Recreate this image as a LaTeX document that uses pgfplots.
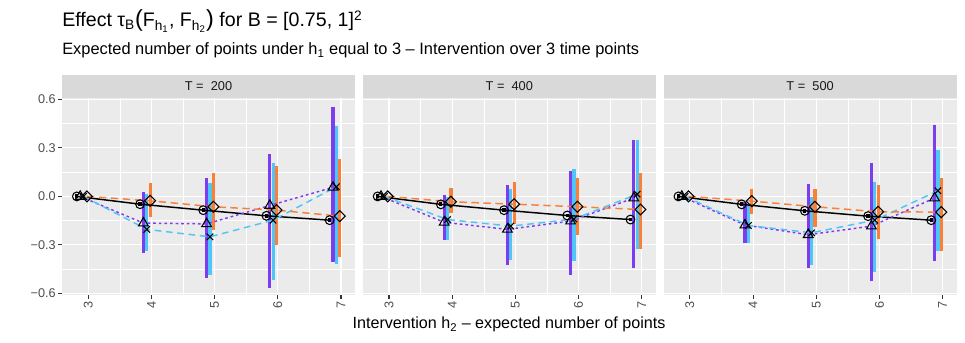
\documentclass[border=0pt]{standalone}
\usepackage{fontspec}
\setmainfont{Liberation Sans}
\usepackage{pgfplots}
\usepackage{pgfplotstable}
\pgfplotsset{compat=1.18}
\definecolor{panelbg}{HTML}{EBEBEB}
\definecolor{stripbg}{HTML}{D9D9D9}
\definecolor{purpleC}{HTML}{7C3CF0}
\definecolor{cyanC}{HTML}{4FC6F5}
\definecolor{orangeC}{HTML}{FA7F38}
\definecolor{tickgrey}{HTML}{4D4D4D}
\definecolor{tickline}{HTML}{333333}

% x: h2 ; b = circle (black) ; p = triangle (purple) ; c = cross (cyan) ; o = diamond (orange)
% *l / *h = lower / upper end of the bar
\pgfplotstableread{
x  b       p      pl     ph     c      cl     ch     o      ol     oh
3  0       0      0      0      0      0      0      0      0      0
4 -0.048  -0.165 -0.349  0.025 -0.204 -0.338  0.012 -0.027 -0.126  0.080
5 -0.085  -0.170 -0.503  0.115 -0.250 -0.487  0.080 -0.064 -0.208  0.148
6 -0.120  -0.056 -0.565  0.260 -0.147 -0.518  0.208 -0.085 -0.300  0.190
7 -0.147   0.056 -0.404  0.554  0.060 -0.419  0.435 -0.122 -0.373  0.230
}\tabA
\pgfplotstableread{
x  b       p      pl     ph     c      cl     ch     o      ol     oh
3  0       0      0      0      0      0      0      0      0      0
4 -0.049  -0.160 -0.270  0.008 -0.143 -0.270 -0.002 -0.033 -0.101  0.053
5 -0.085  -0.204 -0.425  0.068 -0.184 -0.394  0.049 -0.048 -0.173  0.090
6 -0.118  -0.153 -0.487  0.156 -0.140 -0.398  0.167 -0.064 -0.239  0.117
7 -0.143  -0.010 -0.445  0.352  0.014 -0.326  0.352 -0.081 -0.324  0.146
}\tabB
\pgfplotstableread{
x  b       p      pl     ph     c      cl     ch     o      ol     oh
3  0       0      0      0      0      0      0      0      0      0
4 -0.049  -0.177 -0.291 -0.033 -0.180 -0.291 -0.045 -0.029 -0.109  0.043
5 -0.089  -0.237 -0.445  0.076 -0.225 -0.425 -0.002 -0.064 -0.192  0.049
6 -0.122  -0.184 -0.522  0.204 -0.147 -0.470  0.090 -0.095 -0.266  0.070
7 -0.147  -0.010 -0.398  0.441  0.035 -0.336  0.286 -0.097 -0.336  0.111
}\tabC

\pgfplotsset{
  panel/.style={
    scale only axis, width=219.7pt, height=147.5pt, anchor=south west,
    xmin=2.585, xmax=7.22, ymin=-0.61, ymax=0.607,
    axis background/.style={fill=panelbg},
    axis line style={draw=none},
    xtick={3,4,5,6,7}, xticklabels={3,4,5,6,7},
    minor xtick={3.5,4.5,5.5,6.5},
    ytick={-0.6,-0.3,0,0.3,0.6},
    yticklabels={−0.6,−0.3,0.0,0.3,0.6},
    minor ytick={-0.45,-0.15,0.15,0.45},
    grid=both,
    major grid style={white, line width=0.8pt},
    minor grid style={white, line width=0.4pt},
    tick align=outside, xtick pos=left, ytick pos=left,
    major tick length=3pt, minor tick length=0pt,
    tick style={tickline, line width=0.8pt},
    xticklabel style={rotate=90, anchor=east, inner sep=1.5pt,
      font=\fontsize{9.5}{10}\selectfont, text=tickgrey},
    yticklabel style={inner sep=1.5pt, font=\fontsize{9.5}{10}\selectfont, text=tickgrey},
  },
  bar/.style={draw=none, forget plot, error bars/.cd, y dir=both, y explicit,
    error mark=none, error bar style={line width=2.4pt, draw=#1, solid}},
}

\newcommand\series[1]{%
  \addplot[bar=black] table[x expr=\thisrow{x}-0.18, y=b,
    y error plus expr=0.012, y error minus expr=0.012] {#1};
  \addplot[bar=purpleC] table[skip coords between index={0}{1}, x expr=\thisrow{x}-0.127, y=p,
    y error plus expr=\thisrow{ph}-\thisrow{p}, y error minus expr=\thisrow{p}-\thisrow{pl}] {#1};
  \addplot[bar=cyanC] table[skip coords between index={0}{1}, x expr=\thisrow{x}-0.074, y=c,
    y error plus expr=\thisrow{ch}-\thisrow{c}, y error minus expr=\thisrow{c}-\thisrow{cl}] {#1};
  \addplot[bar=orangeC] table[skip coords between index={0}{1}, x expr=\thisrow{x}-0.021, y=o,
    y error plus expr=\thisrow{oh}-\thisrow{o}, y error minus expr=\thisrow{o}-\thisrow{ol}] {#1};
  \addplot[black, line width=1.1pt, mark=none] table[x expr=\thisrow{x}-0.18, y=b] {#1};
  \addplot[purpleC, line width=1.1pt, dash pattern=on 2pt off 2.2pt, mark=none] table[x expr=\thisrow{x}-0.127, y=p] {#1};
  \addplot[cyanC, line width=1.1pt, dash pattern=on 5pt off 3.5pt, mark=none] table[x expr=\thisrow{x}-0.074, y=c] {#1};
  \addplot[orangeC, line width=1.1pt, dash pattern=on 5.5pt off 3.5pt, mark=none] table[x expr=\thisrow{x}-0.021, y=o] {#1};
  \addplot[only marks, black, mark=o, mark size=3.3pt, mark options={line width=0.8pt}] table[x expr=\thisrow{x}-0.18, y=b] {#1};
  \addplot[only marks, black, mark=triangle, mark size=4.2pt, mark options={line width=0.8pt}] table[x expr=\thisrow{x}-0.127, y=p] {#1};
  \addplot[only marks, black, mark=x, mark size=3.4pt, mark options={line width=0.8pt}] table[x expr=\thisrow{x}-0.074, y=c] {#1};
  \addplot[only marks, black, mark=square, mark size=2.9pt, mark options={rotate=45, line width=0.8pt}] table[x expr=\thisrow{x}-0.021, y=o] {#1};
}

\begin{document}
\begin{tikzpicture}[x=0.75pt, y=0.75pt]
\useasboundingbox (0,0) rectangle (965,343);

\begin{axis}[panel, at={(46.5pt,36pt)}]
\series{\tabA}
\end{axis}
\begin{axis}[panel, at={(272.1pt,36pt)}, yticklabels={}, ytick style={draw=none}]
\series{\tabB}
\end{axis}
\begin{axis}[panel, at={(497.7pt,36pt)}, yticklabels={}, ytick style={draw=none}]
\series{\tabC}
\end{axis}

% facet strips
\fill[stripbg] (62,244.7) rectangle (354.9,268);
\fill[stripbg] (362.8,244.7) rectangle (655.7,268);
\fill[stripbg] (663.6,244.7) rectangle (956.5,268);
\node[text=black!90, font=\fontsize{9.6}{10}\selectfont] at (208.5,256.5) {T =\ \ 200};
\node[text=black!90, font=\fontsize{9.6}{10}\selectfont] at (509.3,256.5) {T =\ \ 400};
\node[text=black!90, font=\fontsize{9.6}{10}\selectfont] at (810.1,256.5) {T =\ \ 500};

% titles
\node[anchor=base west, inner sep=0pt, font=\fontsize{14.7}{16}\selectfont] at (62,316)
  {Effect τ\textsubscript{B}{\fontsize{17.5}{18}\selectfont(}F\textsubscript{h\textsubscript{1}}, F\textsubscript{h\textsubscript{2}}{\fontsize{17.5}{18}\selectfont)} for B = [0.75, 1]\textsuperscript{2}};
\node[anchor=base west, inner sep=0pt, font=\fontsize{12.3}{13}\selectfont] at (62,288)
  {Expected number of points under h\textsubscript{1} equal to 3 – Intervention over 3 time points};
\node[anchor=base, inner sep=0pt, font=\fontsize{12.1}{13}\selectfont] at (509,14)
  {Intervention h\textsubscript{2} – expected number of points};
\end{tikzpicture}
\end{document}
